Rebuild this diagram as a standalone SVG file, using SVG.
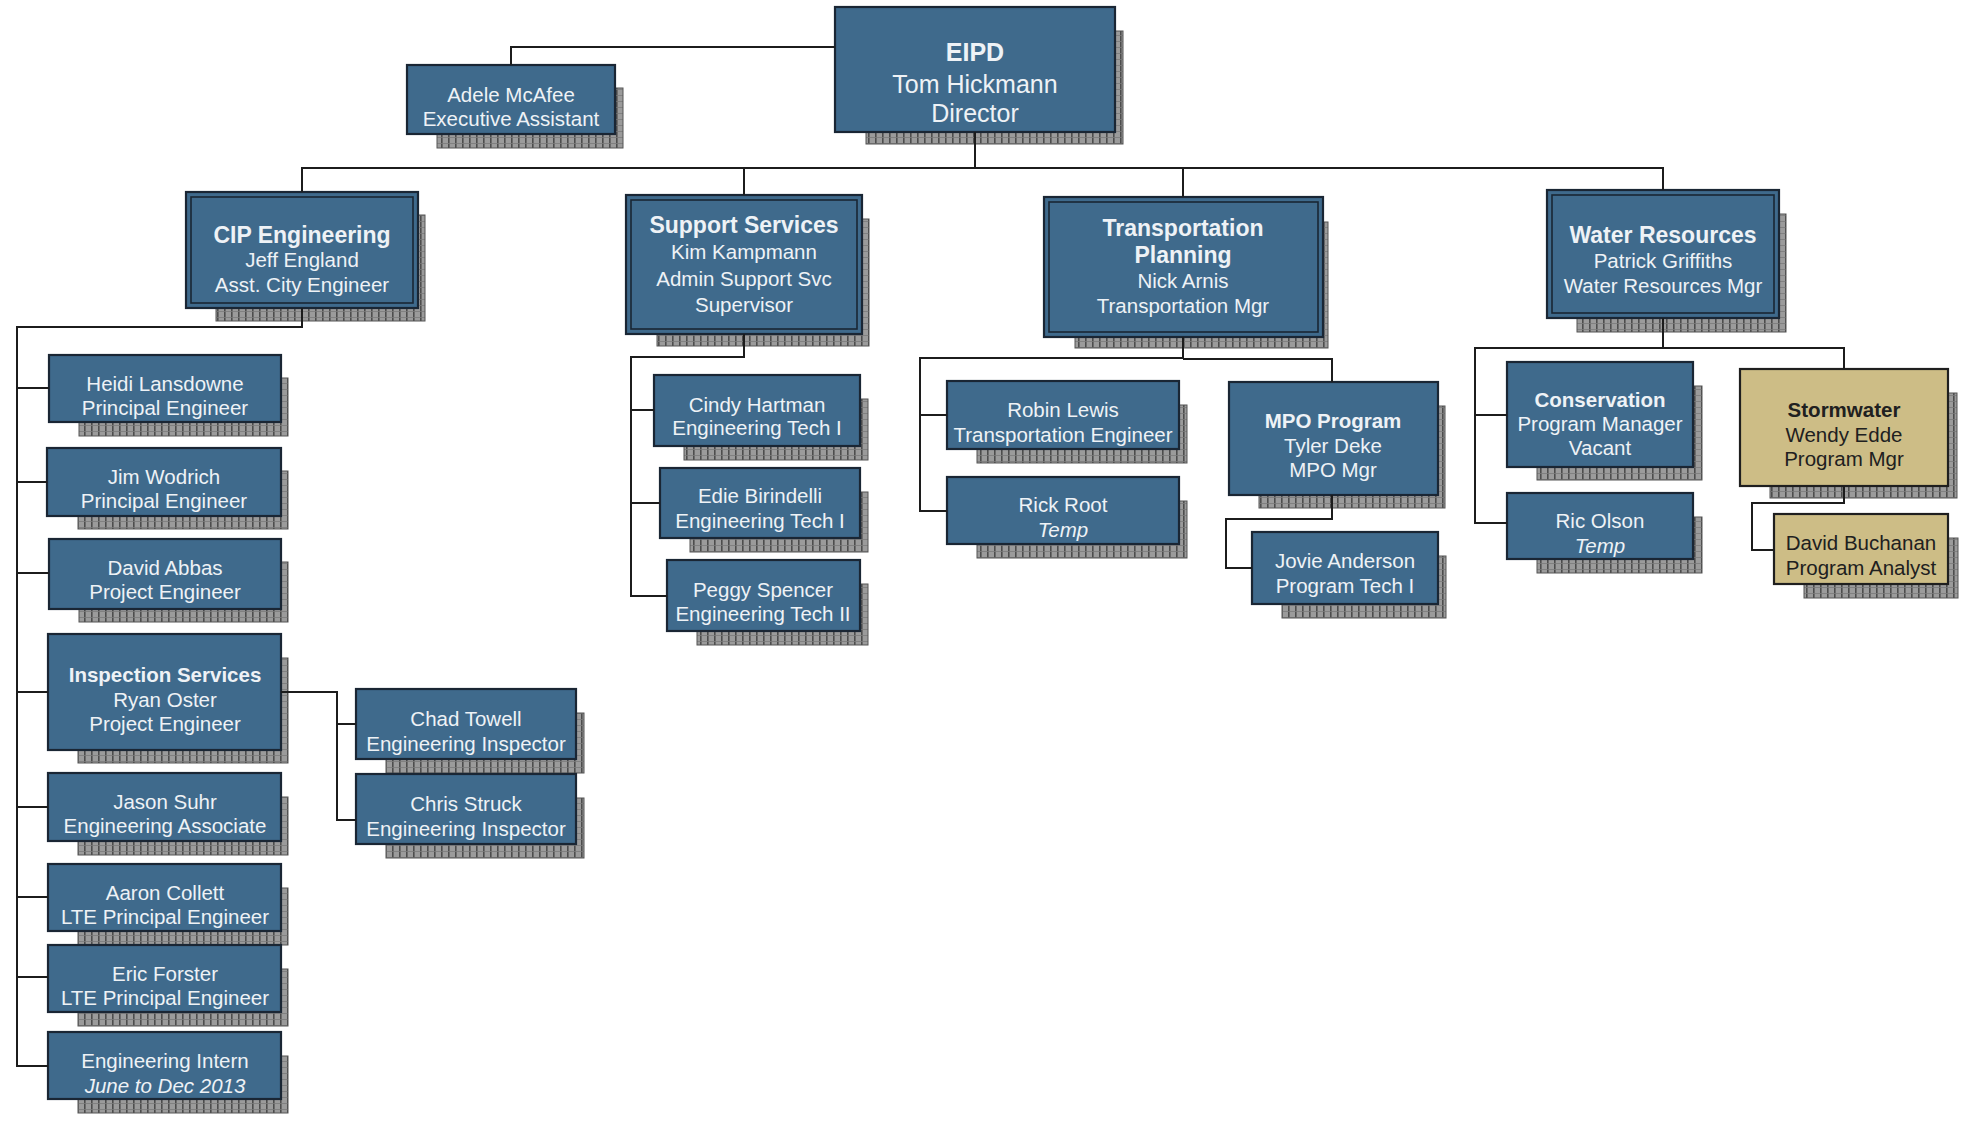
<svg xmlns="http://www.w3.org/2000/svg" width="1963" height="1121" viewBox="0 0 1963 1121">
<defs>
<pattern id="hatch" width="7" height="6" patternUnits="userSpaceOnUse">
<rect width="7" height="6" fill="#9b9b9b"/>
<rect x="0" y="0" width="1.6" height="6" fill="#4d4d4d"/>
<rect x="0" y="5.2" width="7" height="0.8" fill="#7a7a7a"/>
</pattern>
<style>
.sh{fill:url(#hatch);stroke:#555;stroke-width:1}
.box{fill:#3f6a8c;stroke:#1a2634;stroke-width:2.2}
.tan{fill:#cdbd86;stroke:#1f1f1f;stroke-width:2.2}
.inner{fill:none;stroke:#1a2634;stroke-width:1.6}
.t{font-family:"Liberation Sans",Arial,sans-serif;font-size:20.5px;fill:#eef2f6;text-anchor:middle}
.b{font-weight:bold}
.i{font-style:italic}
.dk{fill:#202020}
.conn{fill:none;stroke:#1c1c1c;stroke-width:2}
</style>
</defs>
<rect width="1963" height="1121" fill="#ffffff"/>

<g id="eipd">
<rect class="sh" x="866" y="31" width="257" height="113"/>
<rect class="box" x="835" y="7" width="280" height="125"/>
<text class="t b" x="975" y="61" style="font-size:25px">EIPD</text>
<text class="t" x="975" y="93" style="font-size:25px">Tom Hickmann</text>
<text class="t" x="975" y="122" style="font-size:25px">Director</text>
</g>

<g id="adele">
<rect class="sh" x="437" y="88" width="186" height="60"/>
<rect class="box" x="407" y="65" width="208" height="69"/>
<text class="t" x="511" y="102">Adele McAfee</text>
<text class="t" x="511" y="126">Executive Assistant</text>
</g>

<g id="cip">
<rect class="sh" x="216" y="215" width="209" height="106"/>
<rect class="box" x="186" y="192" width="232" height="116"/>
<rect class="inner" x="191" y="197" width="222" height="106"/>
<text class="t b" x="302" y="243" style="font-size:23px">CIP Engineering</text>
<text class="t" x="302" y="267">Jeff England</text>
<text class="t" x="302" y="292">Asst. City Engineer</text>
</g>

<g id="support">
<rect class="sh" x="657" y="219" width="212" height="127"/>
<rect class="box" x="626" y="195" width="236" height="139"/>
<rect class="inner" x="631" y="200" width="226" height="129"/>
<text class="t b" x="744" y="233" style="font-size:23px">Support Services</text>
<text class="t" x="744" y="259">Kim Kampmann</text>
<text class="t" x="744" y="286">Admin Support Svc</text>
<text class="t" x="744" y="312">Supervisor</text>
</g>

<g id="transportation">
<rect class="sh" x="1075" y="222" width="253" height="126"/>
<rect class="box" x="1044" y="197" width="279" height="140"/>
<rect class="inner" x="1049" y="202" width="269" height="130"/>
<text class="t b" x="1183" y="236" style="font-size:23px">Transportation</text>
<text class="t b" x="1183" y="263" style="font-size:23px">Planning</text>
<text class="t" x="1183" y="288">Nick Arnis</text>
<text class="t" x="1183" y="313">Transportation Mgr</text>
</g>

<g id="water">
<rect class="sh" x="1577" y="214" width="209" height="118"/>
<rect class="box" x="1547" y="190" width="232" height="128"/>
<rect class="inner" x="1552" y="195" width="222" height="118"/>
<text class="t b" x="1663" y="243" style="font-size:23px">Water Resources</text>
<text class="t" x="1663" y="268">Patrick Griffiths</text>
<text class="t" x="1663" y="293">Water Resources Mgr</text>
</g>

<g id="heidi">
<rect class="sh" x="79" y="378" width="209" height="58"/>
<rect class="box" x="49" y="355" width="232" height="67"/>
<text class="t" x="165" y="391">Heidi Lansdowne</text>
<text class="t" x="165" y="415">Principal Engineer</text>
</g>

<g id="jim">
<rect class="sh" x="78" y="471" width="210" height="58"/>
<rect class="box" x="47" y="448" width="234" height="68"/>
<text class="t" x="164" y="484">Jim Wodrich</text>
<text class="t" x="164" y="508">Principal Engineer</text>
</g>

<g id="david-abbas">
<rect class="sh" x="79" y="562" width="209" height="60"/>
<rect class="box" x="49" y="539" width="232" height="70"/>
<text class="t" x="165" y="575">David Abbas</text>
<text class="t" x="165" y="599">Project Engineer</text>
</g>

<g id="inspection">
<rect class="sh" x="78" y="658" width="210" height="105"/>
<rect class="box" x="48" y="634" width="233" height="116"/>
<text class="t b" x="165" y="682">Inspection Services</text>
<text class="t" x="165" y="707">Ryan Oster</text>
<text class="t" x="165" y="731">Project Engineer</text>
</g>

<g id="jason">
<rect class="sh" x="78" y="797" width="210" height="58"/>
<rect class="box" x="48" y="773" width="233" height="68"/>
<text class="t" x="165" y="809">Jason Suhr</text>
<text class="t" x="165" y="833">Engineering Associate</text>
</g>

<g id="aaron">
<rect class="sh" x="78" y="888" width="210" height="57"/>
<rect class="box" x="48" y="864" width="233" height="67"/>
<text class="t" x="165" y="900">Aaron Collett</text>
<text class="t" x="165" y="924">LTE Principal Engineer</text>
</g>

<g id="eric">
<rect class="sh" x="78" y="969" width="210" height="57"/>
<rect class="box" x="48" y="945" width="233" height="67"/>
<text class="t" x="165" y="981">Eric Forster</text>
<text class="t" x="165" y="1005">LTE Principal Engineer</text>
</g>

<g id="intern">
<rect class="sh" x="78" y="1056" width="210" height="57"/>
<rect class="box" x="48" y="1032" width="233" height="67"/>
<text class="t" x="165" y="1068">Engineering Intern</text>
<text class="t i" x="165" y="1093">June to Dec 2013</text>
</g>

<g id="chad">
<rect class="sh" x="386" y="713" width="198" height="60"/>
<rect class="box" x="356" y="689" width="220" height="70"/>
<text class="t" x="466" y="726">Chad Towell</text>
<text class="t" x="466" y="751">Engineering Inspector</text>
</g>

<g id="chris">
<rect class="sh" x="386" y="798" width="198" height="60"/>
<rect class="box" x="356" y="774" width="220" height="70"/>
<text class="t" x="466" y="811">Chris Struck</text>
<text class="t" x="466" y="836">Engineering Inspector</text>
</g>

<g id="cindy">
<rect class="sh" x="684" y="399" width="184" height="61"/>
<rect class="box" x="654" y="375" width="206" height="71"/>
<text class="t" x="757" y="412">Cindy Hartman</text>
<text class="t" x="757" y="435">Engineering Tech I</text>
</g>

<g id="edie">
<rect class="sh" x="690" y="492" width="178" height="60"/>
<rect class="box" x="660" y="468" width="200" height="70"/>
<text class="t" x="760" y="503">Edie Birindelli</text>
<text class="t" x="760" y="528">Engineering Tech I</text>
</g>

<g id="peggy">
<rect class="sh" x="697" y="584" width="171" height="61"/>
<rect class="box" x="667" y="560" width="193" height="71"/>
<text class="t" x="763" y="597">Peggy Spencer</text>
<text class="t" x="763" y="621">Engineering Tech II</text>
</g>

<g id="robin">
<rect class="sh" x="977" y="405" width="210" height="58"/>
<rect class="box" x="947" y="381" width="232" height="68"/>
<text class="t" x="1063" y="417">Robin Lewis</text>
<text class="t" x="1063" y="442">Transportation Engineer</text>
</g>

<g id="rick">
<rect class="sh" x="977" y="501" width="210" height="57"/>
<rect class="box" x="947" y="477" width="232" height="67"/>
<text class="t" x="1063" y="512">Rick Root</text>
<text class="t i" x="1063" y="537">Temp</text>
</g>

<g id="mpo">
<rect class="sh" x="1259" y="406" width="186" height="102"/>
<rect class="box" x="1229" y="382" width="209" height="113"/>
<text class="t b" x="1333" y="428">MPO Program</text>
<text class="t" x="1333" y="453">Tyler Deke</text>
<text class="t" x="1333" y="477">MPO Mgr</text>
</g>

<g id="jovie">
<rect class="sh" x="1282" y="556" width="164" height="62"/>
<rect class="box" x="1252" y="532" width="186" height="72"/>
<text class="t" x="1345" y="568">Jovie Anderson</text>
<text class="t" x="1345" y="593">Program Tech I</text>
</g>

<g id="conservation">
<rect class="sh" x="1537" y="386" width="165" height="94"/>
<rect class="box" x="1507" y="362" width="186" height="105"/>
<text class="t b" x="1600" y="407">Conservation</text>
<text class="t" x="1600" y="431">Program Manager</text>
<text class="t" x="1600" y="455">Vacant</text>
</g>

<g id="ric">
<rect class="sh" x="1537" y="517" width="165" height="56"/>
<rect class="box" x="1507" y="493" width="186" height="66"/>
<text class="t" x="1600" y="528">Ric Olson</text>
<text class="t i" x="1600" y="553">Temp</text>
</g>

<g id="stormwater">
<rect class="sh" x="1770" y="393" width="187" height="105"/>
<rect class="tan" x="1740" y="369" width="208" height="117"/>
<text class="t b dk" x="1844" y="417">Stormwater</text>
<text class="t dk" x="1844" y="442">Wendy Edde</text>
<text class="t dk" x="1844" y="466">Program Mgr</text>
</g>

<g id="david-buchanan">
<rect class="sh" x="1804" y="538" width="154" height="60"/>
<rect class="tan" x="1774" y="514" width="174" height="70"/>
<text class="t dk" x="1861" y="550">David Buchanan</text>
<text class="t dk" x="1861" y="575">Program Analyst</text>
</g>

<g id="connectors">
<path class="conn" d="M511,65 V47 H835"/>
<path class="conn" d="M975,132 V168"/>
<path class="conn" d="M302,192 V168 H1663 V190"/>
<path class="conn" d="M744,168 V195"/>
<path class="conn" d="M1183,168 V197"/>
<path class="conn" d="M302,308 V327 H17 V1066 H48"/>
<path class="conn" d="M17,388 H49 M17,482 H47 M17,573 H49 M17,692 H48 M17,807 H48 M17,897 H48 M17,977 H48"/>
<path class="conn" d="M281,692 H337 V820 H356 M337,724 H356"/>
<path class="conn" d="M744,334 V357 H631 V596 H667 M631,410 H654 M631,503 H660"/>
<path class="conn" d="M1183,337 V358 H920 V511 H947 M920,415 H947 M1183,359 H1332 V382"/>
<path class="conn" d="M1332,495 V519 H1226 V568 H1252"/>
<path class="conn" d="M1663,318 V348 H1475 V523 H1507 M1475,415 H1507 M1663,348 H1844 V369"/>
<path class="conn" d="M1844,486 V503 H1752 V550 H1774"/>
</g>
</svg>
